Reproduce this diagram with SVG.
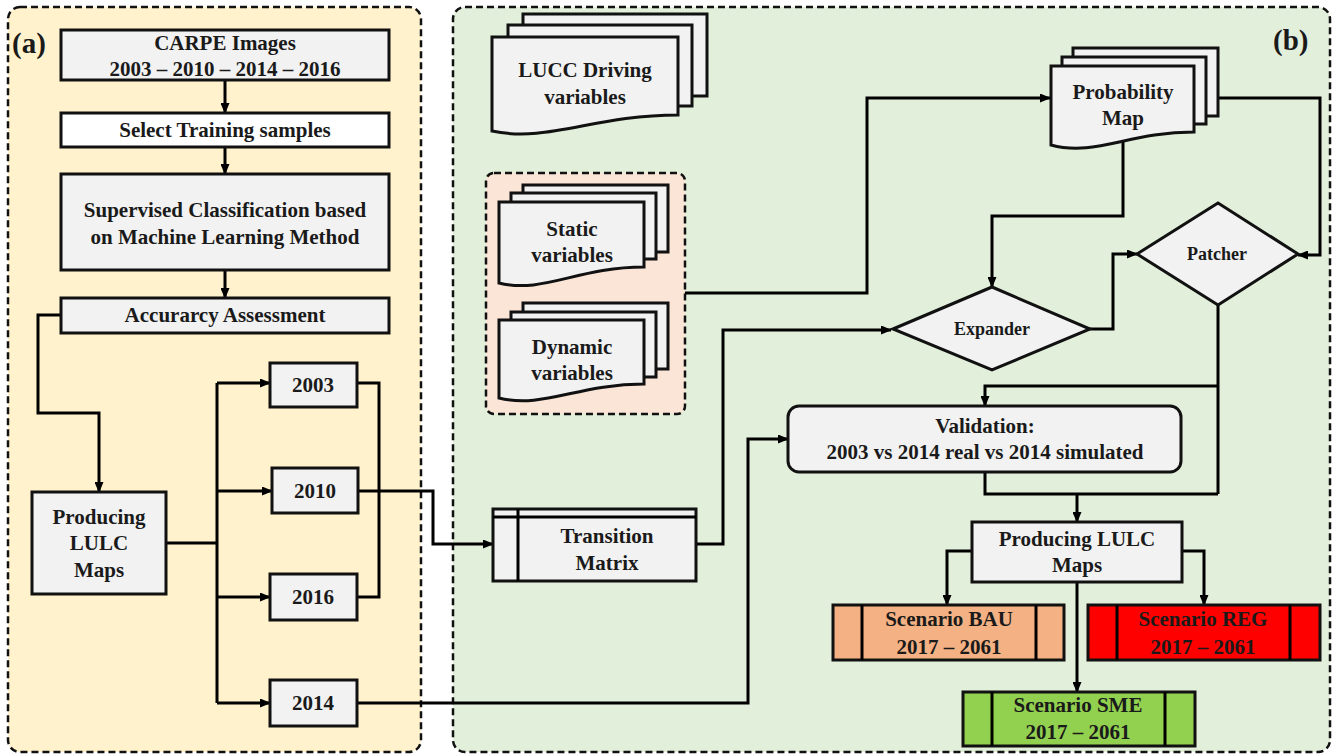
<svg xmlns="http://www.w3.org/2000/svg" width="1335" height="756" viewBox="0 0 1335 756">
<defs>
<marker id="ah" markerWidth="11" markerHeight="9" refX="10" refY="4.5" orient="auto" markerUnits="userSpaceOnUse">
<path d="M0,0 L11,4.5 L0,9 z" fill="#000"/>
</marker>
<style>
.panel{stroke:#111;stroke-width:2.5;stroke-dasharray:7 4}
.box{fill:#f2f2f2;stroke:#111;stroke-width:3}
.ln{fill:none;stroke:#000;stroke-width:3}
.ar{fill:none;stroke:#000;stroke-width:3;marker-end:url(#ah)}
text{font-family:"Liberation Serif","Times New Roman",serif;font-weight:bold;fill:#1a1a1a;text-anchor:middle;dominant-baseline:central;font-size:21px}
.sm{font-size:18px}
.lab{font-size:29px;text-anchor:start}
</style>
</defs>
<rect x="0" y="0" width="1335" height="756" fill="#fff"/>
<g id="panel-a"><rect class="panel" x="8" y="7" width="413" height="745" rx="12" fill="#fff2cc"/><text class="lab" x="12" y="43">(a)</text></g>
<g id="panel-b"><rect class="panel" x="453" y="7" width="877" height="745" rx="12" fill="#e2efda"/><text class="lab" x="1273" y="40">(b)</text></g>
<g id="variables-group"><rect class="panel" x="486" y="173" width="199" height="241" rx="8" fill="#fbe5d6"/></g>

<g id="connectors">
<path class="ar" d="M225 80 V113"/>
<path class="ar" d="M225 147 V174"/>
<path class="ar" d="M225 270 V298"/>
<path class="ar" d="M61 315 H38 V413 H99 V492"/>
<path class="ln" d="M166 543 H217 M217 383 V703"/>
<path class="ar" d="M217 383 H270"/>
<path class="ar" d="M217 491 H272"/>
<path class="ar" d="M217 597 H270"/>
<path class="ar" d="M217 703 H270"/>
<path class="ln" d="M357 383 H379 V597 H357"/>
<path class="ar" d="M358 491 H433 V544 H493"/>
<path class="ar" d="M357 703 H748 V439 H788"/>
<path class="ar" d="M696 544 H723 V330 H891"/>
<path class="ar" d="M685 293 H867 V98 H1050"/>
<path class="ar" d="M1123 140 V216 H992 V287"/>
<path class="ar" d="M1218 98 H1320 V255 H1298"/>
<path class="ar" d="M1090 329 H1113 V254 H1137"/>
<path class="ln" d="M1218 305 V494 M985 472 V494 H1218"/>
<path class="ar" d="M1218 386 H985 V406"/>
<path class="ar" d="M1077 494 V522"/>
<path class="ar" d="M972 551 H947 V605"/>
<path class="ar" d="M1182 551 H1204 V605"/>
<path class="ar" d="M1077 582 V692"/>
</g>

<g id="carpe"><rect class="box" x="61" y="30" width="328" height="50"/><text x="225" y="43">CARPE Images</text><text x="225" y="69">2003 – 2010 – 2014 – 2016</text></g>
<g id="select"><rect class="box" x="61" y="113" width="328" height="34" fill="#fff" style="fill:#fff"/><text x="225" y="130">Select Training samples</text></g>
<g id="supervised"><rect class="box" x="61" y="174" width="328" height="96"/><text x="225" y="210">Supervised Classification based</text><text x="225" y="237">on Machine Learning Method</text></g>
<g id="accuracy"><rect class="box" x="61" y="298" width="328" height="35"/><text x="225" y="315">Accurarcy Assessment</text></g>
<g id="producing-a"><rect class="box" x="32" y="492" width="134" height="102"/><text x="99" y="517">Producing</text><text x="99" y="543">LULC</text><text x="99" y="570">Maps</text></g>
<g id="y2003"><rect class="box" x="270" y="363" width="87" height="44"/><text x="313" y="385">2003</text></g>
<g id="y2010"><rect class="box" x="272" y="468" width="86" height="45"/><text x="315" y="491">2010</text></g>
<g id="y2016"><rect class="box" x="270" y="574" width="87" height="46"/><text x="313" y="597">2016</text></g>
<g id="y2014"><rect class="box" x="270" y="680" width="87" height="46"/><text x="313" y="703">2014</text></g>

<g id="lucc">
<rect class="box" x="523" y="14" width="184" height="82"/>
<rect class="box" x="508" y="25" width="184" height="81"/>
<path class="box" d="M492 37 H678 V115 C594 115 548 143 492 131 Z"/>
<text x="585" y="70">LUCC Driving</text><text x="585" y="97">variables</text>
</g>
<g id="static">
<rect class="box" x="523" y="185" width="145" height="67"/>
<rect class="box" x="511" y="193" width="145" height="66"/>
<path class="box" d="M499 202 H644 V267 C578 267 543 294 499 283 Z"/>
<text x="572" y="229">Static</text><text x="572" y="255">variables</text>
</g>
<g id="dynamic">
<rect class="box" x="523" y="303" width="145" height="66"/>
<rect class="box" x="511" y="312" width="145" height="65"/>
<path class="box" d="M499 320 H644 V384 C578 384 543 409 499 398 Z"/>
<text x="572" y="347">Dynamic</text><text x="572" y="373">variables</text>
</g>
<g id="probability">
<rect class="box" x="1073" y="48" width="145" height="68"/>
<rect class="box" x="1062" y="57" width="144" height="67"/>
<path class="box" d="M1051 66 H1194 V132 C1129 132 1095 157 1051 145 Z"/>
<text x="1123" y="92">Probability</text><text x="1123" y="118">Map</text>
</g>
<g id="transition"><rect class="box" x="493" y="509" width="203" height="72"/><path class="ln" d="M493 517 H696 M518 509 V581"/><text x="607" y="536">Transition</text><text x="607" y="563">Matrix</text></g>
<g id="expander"><path class="box" d="M893 329 L992 287 L1090 329 L992 370 Z"/><text class="sm" x="992" y="329">Expander</text></g>
<g id="patcher"><path class="box" d="M1137 254 L1218 203 L1298 254 L1218 305 Z"/><text class="sm" x="1217" y="254">Patcher</text></g>
<g id="validation"><rect class="box" x="788" y="406" width="393" height="66" rx="11"/><text x="985" y="426">Validation:</text><text x="985" y="452">2003 vs 2014 real vs 2014 simulated</text></g>
<g id="producing-b"><rect class="box" x="972" y="522" width="210" height="60"/><text x="1077" y="539">Producing LULC</text><text x="1077" y="565">Maps</text></g>
<g id="bau"><rect class="box" x="833" y="605" width="231" height="55" style="fill:#f4b183"/><path class="ln" d="M862 605 V660 M1036 605 V660"/><text x="949" y="619">Scenario BAU</text><text x="949" y="647">2017 – 2061</text></g>
<g id="reg"><rect class="box" x="1088" y="605" width="232" height="55" style="fill:#ff0000"/><path class="ln" d="M1117 605 V660 M1290 605 V660"/><text x="1203" y="619">Scenario REG</text><text x="1203" y="647">2017 – 2061</text></g>
<g id="sme"><rect class="box" x="963" y="692" width="232" height="54" style="fill:#92d050"/><path class="ln" d="M992 692 V746 M1165 692 V746"/><text x="1078" y="705">Scenario SME</text><text x="1078" y="732">2017 – 2061</text></g>
</svg>
